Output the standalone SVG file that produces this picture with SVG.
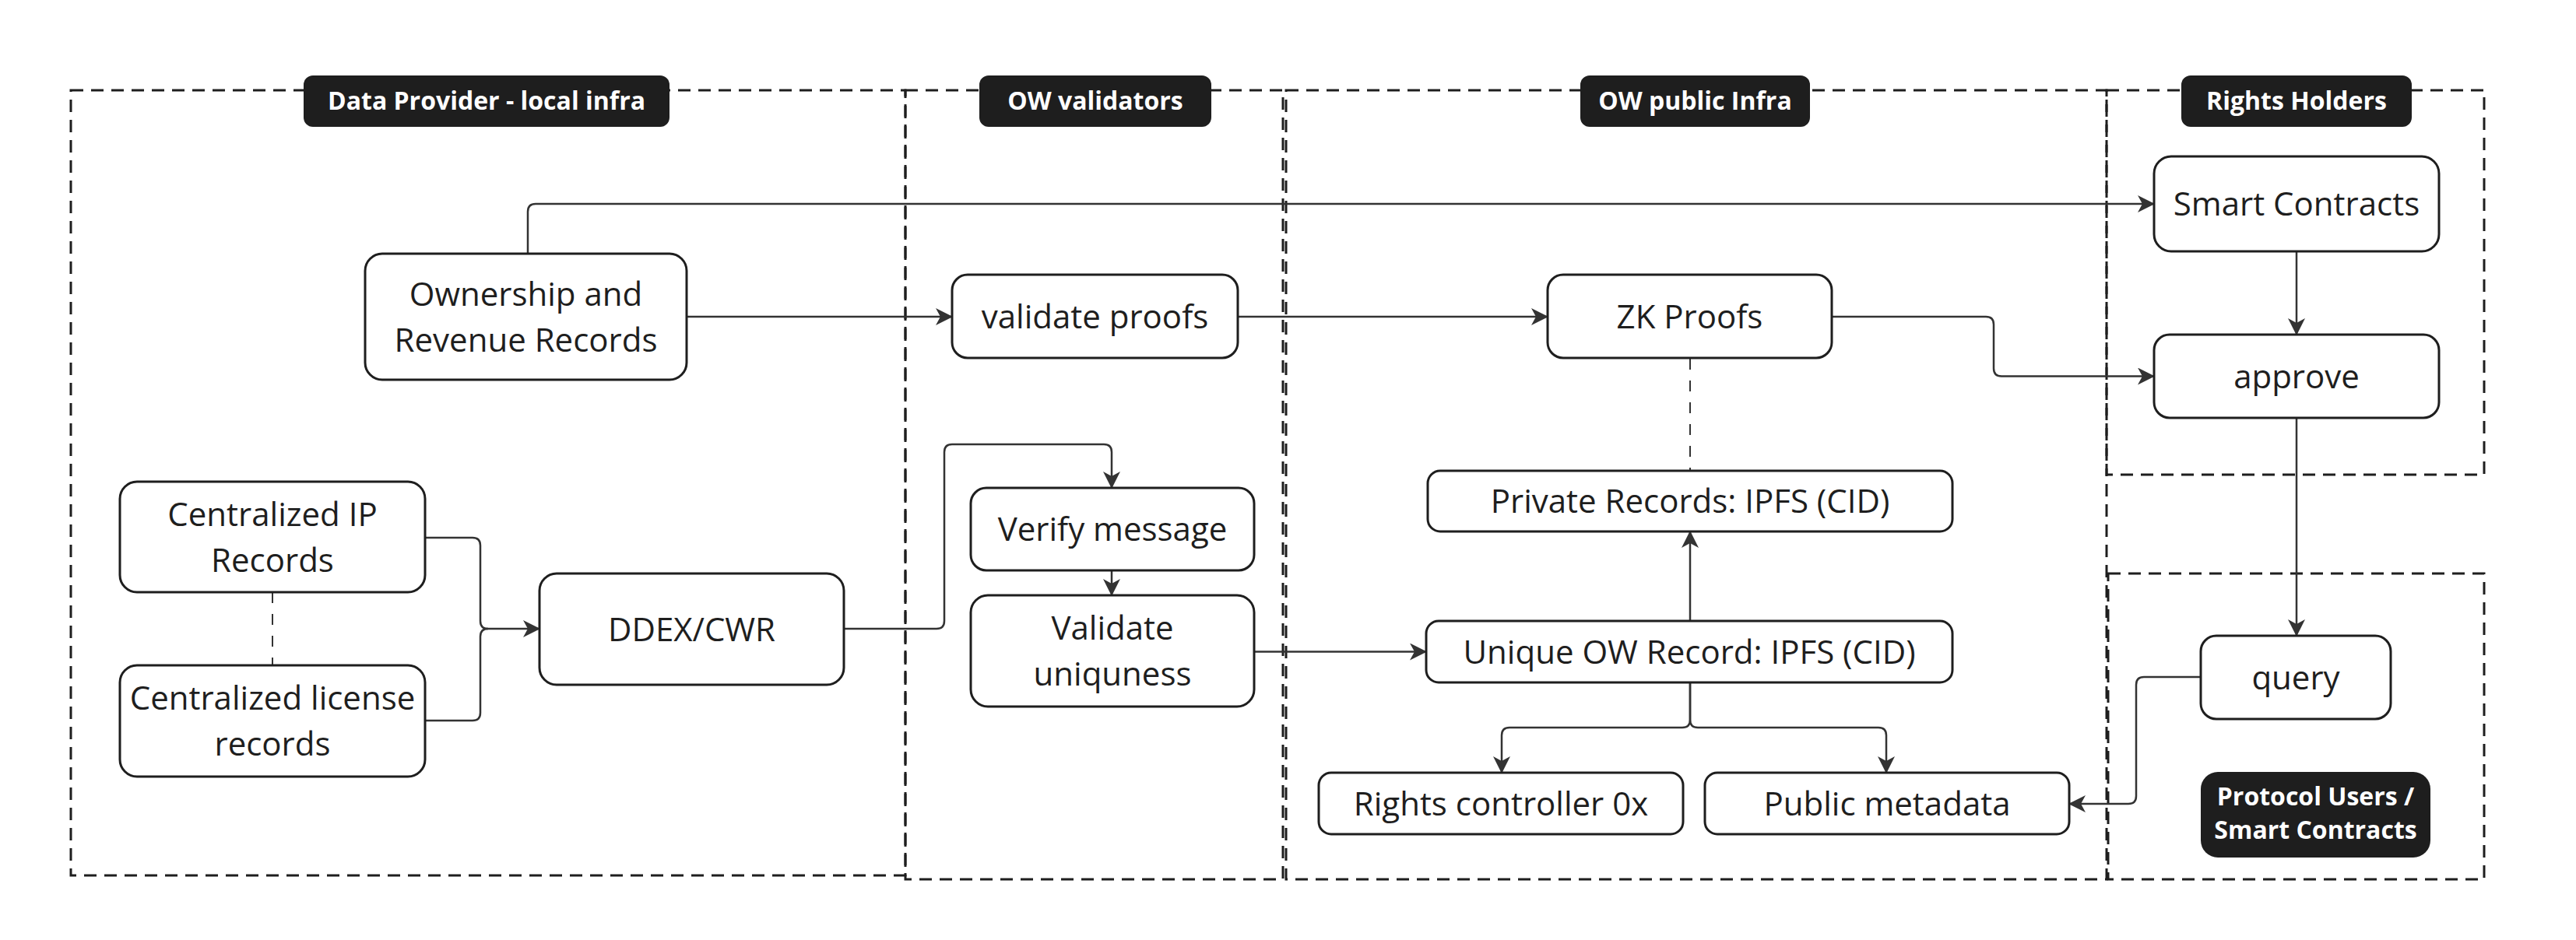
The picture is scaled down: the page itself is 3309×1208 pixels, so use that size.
<svg xmlns="http://www.w3.org/2000/svg" width="3309" height="1208" viewBox="0 0 3309 1208">
<defs>
<style>
.cont{fill:none;stroke:#1e1e1e;stroke-width:3;stroke-dasharray:16 10}
.node rect{fill:#fff;stroke:#1e1e1e;stroke-width:3}
.node text{font-family:"Open Sans","Noto Sans",sans-serif;font-size:42px;fill:#1e1e1e;text-anchor:middle}
.lbl rect{fill:#1e1e1e}
.lbl text{font-family:"Open Sans","Noto Sans",sans-serif;font-size:32px;font-weight:bold;fill:#fff;text-anchor:middle}
.c{fill:none;stroke:#333;stroke-width:2.5}
.ca{fill:none;stroke:#333;stroke-width:2.5;marker-end:url(#arr)}
.cd{fill:none;stroke:#333;stroke-width:2;stroke-dasharray:14 14}
</style>
<marker id="arr" viewBox="0 0 22 22" refX="21" refY="11" markerWidth="22" markerHeight="22" markerUnits="userSpaceOnUse" orient="auto">
<path d="M0,0 L22,11 L0,22 L6,11 Z" fill="#333"/>
</marker>
</defs>
<rect width="3309" height="1208" fill="#fff"/>

<g id="containers">
<rect class="cont" x="91" y="116" width="1072" height="1009"/>
<rect class="cont" x="1163" y="116" width="485" height="1014"/>
<rect class="cont" x="1652" y="116" width="1054" height="1014"/>
<rect class="cont" x="2706" y="116" width="485" height="494"/>
<rect class="cont" x="2708" y="737" width="483" height="393"/>
</g>

<g id="connectors">
<path class="ca" d="M678 326 V272 Q678 262 688 262 H2767"/>
<path class="ca" d="M882 407 H1223"/>
<path class="ca" d="M1590 407 H1988"/>
<path class="ca" d="M2353 407 H2551 Q2561 407 2561 417 V473.5 Q2561 483.5 2571 483.5 H2767"/>
<path class="ca" d="M2950 323 V430"/>
<path class="ca" d="M2950 537 V817"/>
<path class="ca" d="M2827 870 H2754 Q2744 870 2744 880 V1023 Q2744 1033 2734 1033 H2658"/>
<path class="c" d="M546 691 H607 Q617 691 617 701 V798 Q617 808 627 808"/>
<path class="c" d="M546 926 H607 Q617 926 617 916 V818 Q617 808 627 808"/>
<path class="ca" d="M627 808 H693"/>
<path class="cd" d="M350 761 V855"/>
<path class="ca" d="M1084 808 H1203 Q1213 808 1213 798 V581 Q1213 571 1223 571 H1418 Q1428 571 1428 581 V627"/>
<path class="ca" d="M1428 733 V765"/>
<path class="ca" d="M1611 837.5 H1832"/>
<path class="ca" d="M2171 798 V683"/>
<path class="cd" d="M2171 461 V605"/>
<path class="ca" d="M2171 877 V925 Q2171 935 2161 935 H1939 Q1929 935 1929 945 V993"/>
<path class="ca" d="M2171 877 V925 Q2171 935 2181 935 H2413 Q2423 935 2423 945 V993"/>
</g>

<g id="lbl-dp" class="lbl"><rect x="390" y="97" width="470" height="66" rx="12"/><text x="625" y="141">Data Provider - local infra</text></g>
<g id="lbl-val" class="lbl"><rect x="1258" y="97" width="298" height="66" rx="12"/><text x="1407" y="141">OW validators</text></g>
<g id="lbl-pub" class="lbl"><rect x="2030" y="97" width="295" height="66" rx="12"/><text x="2177.5" y="141">OW public Infra</text></g>
<g id="lbl-rh" class="lbl"><rect x="2802" y="97" width="296" height="66" rx="12"/><text x="2950" y="141">Rights Holders</text></g>
<g id="lbl-pu" class="lbl"><rect x="2827" y="992" width="295" height="110" rx="22"/><text x="2974.5" y="1035">Protocol Users /</text><text x="2974.5" y="1078">Smart Contracts</text></g>

<g id="n-own" class="node"><rect x="469" y="326" width="413" height="162" rx="22"/><text x="675.5" y="392.5">Ownership and</text><text x="675.5" y="451.5">Revenue Records</text></g>
<g id="n-cip" class="node"><rect x="154" y="619" width="392" height="142" rx="22"/><text x="350" y="675.5">Centralized IP</text><text x="350" y="734.5">Records</text></g>
<g id="n-clr" class="node"><rect x="154" y="855" width="392" height="143" rx="22"/><text x="350" y="912">Centralized license</text><text x="350" y="971">records</text></g>
<g id="n-ddex" class="node"><rect x="693" y="737" width="391" height="143" rx="22"/><text x="888.5" y="823.5">DDEX/CWR</text></g>
<g id="n-vp" class="node"><rect x="1223" y="353" width="367" height="107" rx="20"/><text x="1406.5" y="421.5">validate proofs</text></g>
<g id="n-vm" class="node"><rect x="1247" y="627" width="364" height="106" rx="20"/><text x="1429" y="695">Verify message</text></g>
<g id="n-vu" class="node"><rect x="1247" y="765" width="364" height="143" rx="22"/><text x="1429" y="822">Validate</text><text x="1429" y="881">uniquness</text></g>
<g id="n-zk" class="node"><rect x="1988" y="353" width="365" height="107" rx="20"/><text x="2170.5" y="421.5">ZK Proofs</text></g>
<g id="n-priv" class="node"><rect x="1834" y="605" width="674" height="78" rx="16"/><text x="2171" y="659">Private Records: IPFS (CID)</text></g>
<g id="n-uniq" class="node"><rect x="1832" y="798" width="676" height="79" rx="16"/><text x="2170" y="852.5">Unique OW Record: IPFS (CID)</text></g>
<g id="n-rc" class="node"><rect x="1694" y="993" width="468" height="79" rx="16"/><text x="1928" y="1047.5">Rights controller 0x</text></g>
<g id="n-pm" class="node"><rect x="2190" y="993" width="468" height="79" rx="16"/><text x="2424" y="1047.5">Public metadata</text></g>
<g id="n-sc" class="node"><rect x="2767" y="201" width="366" height="122" rx="22"/><text x="2950" y="277">Smart Contracts</text></g>
<g id="n-ap" class="node"><rect x="2767" y="430" width="366" height="107" rx="20"/><text x="2950" y="498.5">approve</text></g>
<g id="n-q" class="node"><rect x="2827" y="817" width="244" height="107" rx="20"/><text x="2949" y="885.5">query</text></g>
</svg>
